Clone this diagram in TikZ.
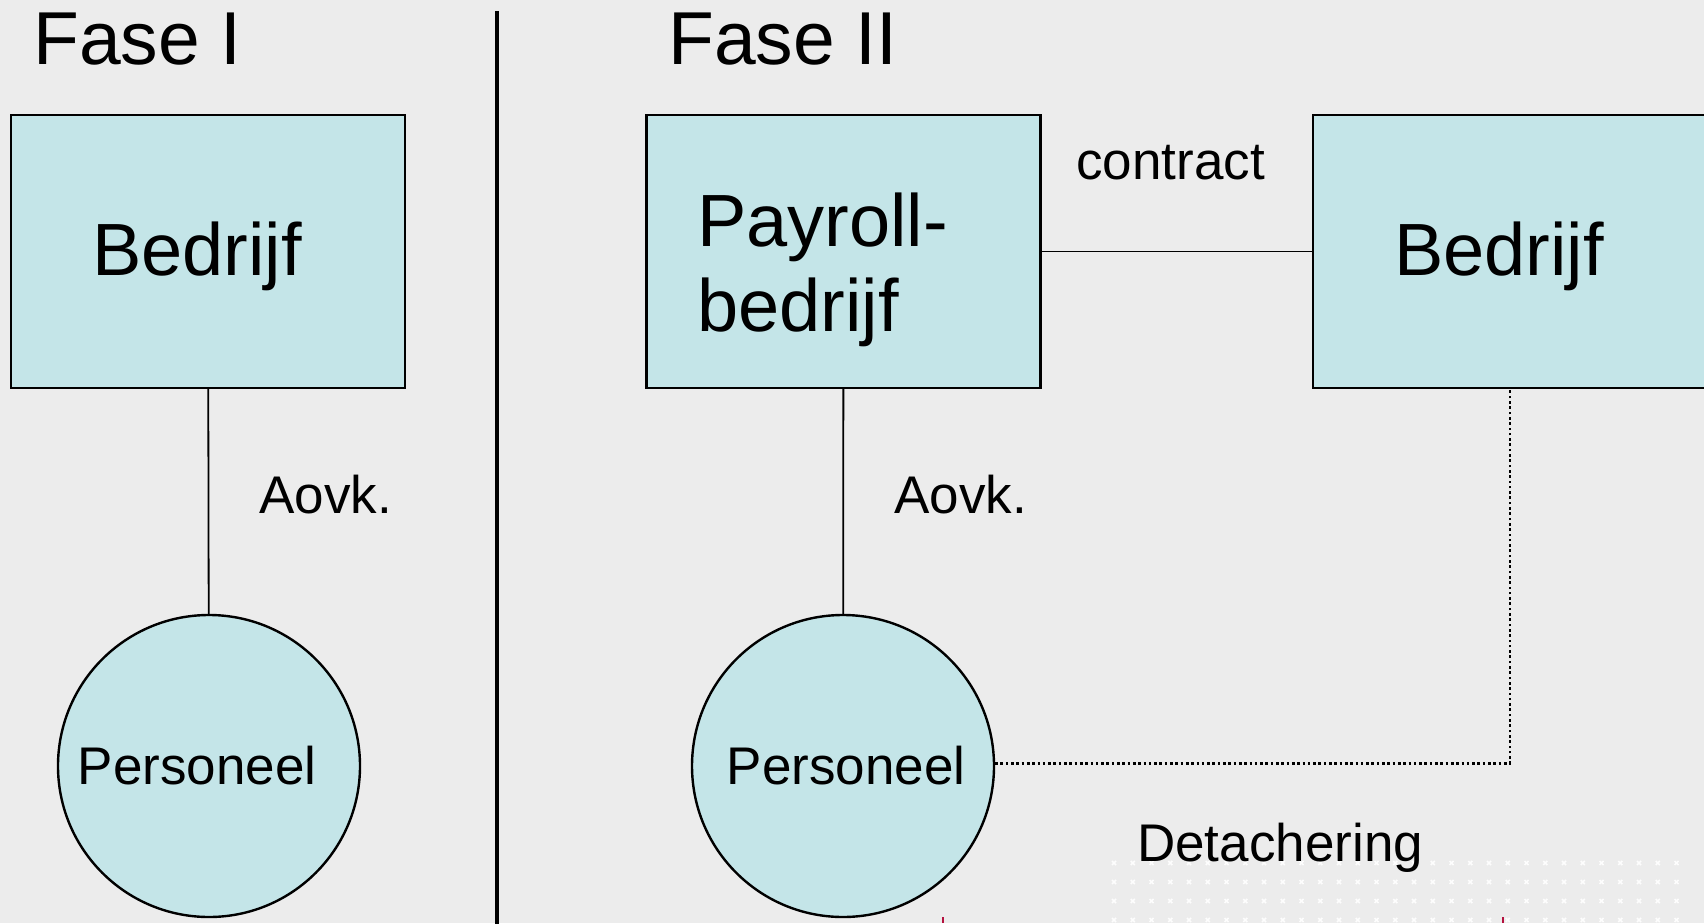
\documentclass[tikz,border=0pt]{standalone}
\usepackage{fontspec}
\setmainfont{Liberation Sans}
\definecolor{bg}{HTML}{ECECEC}
\definecolor{boxfill}{HTML}{C4E5E8}
\definecolor{tick}{HTML}{B4123F}
\begin{document}
\begin{tikzpicture}[x=1pt,y=-1pt,
  big/.style={font=\fontsize{74}{83}\selectfont},
  small/.style={font=\fontsize{53}{60}\selectfont},
  title/.style={font=\fontsize{75}{84}\selectfont, anchor=base west, inner sep=0},
  label/.style={small, anchor=base west, inner sep=0},
  box/.style={draw=black, line width=2.4pt, fill=boxfill, minimum width=394pt, minimum height=273pt, inner sep=0, big},
  firm/.style={box, text height=47pt, text depth=0pt},
  person/.style={draw=black, line width=2.4pt, fill=boxfill, circle, minimum size=302pt, inner sep=0, small},
  link/.style={line width=1.8pt},
  dotline/.style={line width=2.4pt, dash pattern=on 2.6pt off 2.7pt},
  sep/.style={line width=4.4pt}
]
\useasboundingbox (0,0) rectangle (1704,923);
\fill[bg] (0,0) rectangle (1704,923);

% faint dotted texture, lower right
\foreach \i in {0,...,30} {
  \foreach \j in {0,...,3} {
    \path[draw=white, line width=1.5pt, opacity=0.9]
      ({1114+\i*18.75-2},{863+\j*19-2}) -- ++(4,4)
      ({1114+\i*18.75-2},{863+\j*19+2}) -- ++(4,-4);
  }
}

% phase divider
\draw[sep] (497,11) -- (497,930);

% phase titles
\node[title] (f1) at (33,65) {Fase I};
\node[title] (f2) at (668,65) {Fase II};

% Phase I
\node[firm] (b1) at (208,251.5) {\hspace*{-22pt}Bedrijf};
\node[person] (p1) at (209,766) {\hspace*{-24pt}Personeel};
\draw[link] (b1) -- (p1);
\node[label] (a1) at (259,513) {Aovk.};

% Phase II
\node[box] (pay) at (843.5,251.5) {};
\node[big, anchor=base west, inner sep=0] (pay1) at (697,246) {Payroll-};
\node[big, anchor=base west, inner sep=0] (pay2) at (697,331) {bedrijf};
\node[firm] (b3) at (1510,251.5) {\hspace*{-22pt}Bedrijf};
\node[person] (p2) at (843,766) {\hspace*{6pt}Personeel};
\draw[link] (pay) -- (p2);
\draw[link] (pay) -- (b3);
\node[label] (a2) at (894,513) {Aovk.};
\node[label] (c) at (1076,179) {contract};
\draw[dotline] (p2.1.5) -| (b3.south);
\node[label] (d) at (1137,861) {Detachering};

% small marks on the bottom edge
\draw[tick, line width=2pt] (943,917) -- (943,923);
\draw[tick, line width=2pt] (1503,917) -- (1503,923);
\end{tikzpicture}
\end{document}
